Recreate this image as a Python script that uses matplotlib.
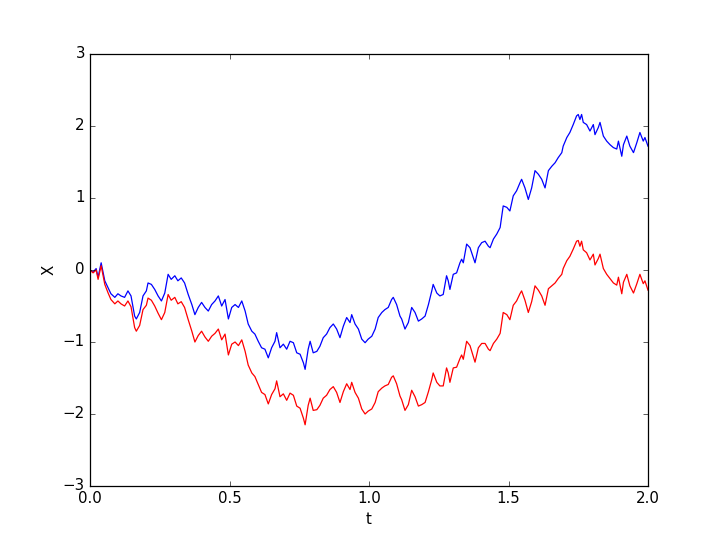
import matplotlib
matplotlib.use('Agg')
import matplotlib.pyplot as plt

# time grid
t = [0.000, 0.011, 0.022, 0.029, 0.040, 0.053, 0.065, 0.075, 0.089, 0.100,
     0.111, 0.124, 0.136, 0.147, 0.160, 0.166, 0.178, 0.190, 0.202, 0.208,
     0.220, 0.232, 0.244, 0.256, 0.268, 0.280, 0.291, 0.304, 0.315, 0.327,
     0.339, 0.352, 0.365, 0.376, 0.388, 0.400, 0.412, 0.424, 0.436, 0.448,
     0.460, 0.472, 0.484, 0.496, 0.508, 0.520, 0.532, 0.544, 0.556, 0.567,
     0.580, 0.591, 0.603, 0.615, 0.627, 0.639, 0.651, 0.663, 0.669, 0.681,
     0.693, 0.705, 0.717, 0.729, 0.741, 0.753, 0.765, 0.771, 0.782, 0.789,
     0.800, 0.813, 0.824, 0.836, 0.848, 0.860, 0.872, 0.884, 0.896, 0.908,
     0.920, 0.932, 0.938, 0.950, 0.962, 0.974, 0.986, 0.997, 1.010, 1.022,
     1.033, 1.046, 1.057, 1.069, 1.081, 1.087, 1.099, 1.111, 1.117, 1.129,
     1.141, 1.153, 1.165, 1.177, 1.189, 1.201, 1.213, 1.225, 1.230, 1.243,
     1.254, 1.266, 1.278, 1.284, 1.290, 1.302, 1.314, 1.326, 1.332, 1.338,
     1.350, 1.362, 1.374, 1.380, 1.392, 1.404, 1.416, 1.428, 1.434, 1.446,
     1.458, 1.470, 1.481, 1.494, 1.505, 1.517, 1.529, 1.541, 1.547, 1.559,
     1.571, 1.583, 1.595, 1.607, 1.619, 1.631, 1.643, 1.655, 1.667, 1.678,
     1.691, 1.696, 1.709, 1.720, 1.732, 1.744, 1.750, 1.756, 1.762, 1.768,
     1.780, 1.792, 1.804, 1.810, 1.822, 1.828, 1.840, 1.852, 1.864, 1.876,
     1.888, 1.894, 1.906, 1.912, 1.924, 1.935, 1.948, 1.960, 1.971, 1.983,
     1.989, 2.000]

# blue path
x_blue = [0.00, -0.03, 0.02, -0.10, 0.10, -0.15, -0.25, -0.33, -0.38, -0.33,
          -0.36, -0.38, -0.29, -0.36, -0.64, -0.68, -0.59, -0.36, -0.29, -0.18,
          -0.20, -0.27, -0.36, -0.43, -0.32, -0.06, -0.13, -0.08, -0.15, -0.11,
          -0.18, -0.34, -0.48, -0.62, -0.52, -0.45, -0.52, -0.57, -0.48, -0.43,
          -0.36, -0.50, -0.41, -0.68, -0.52, -0.48, -0.52, -0.43, -0.57, -0.75,
          -0.85, -0.89, -0.99, -1.08, -1.10, -1.22, -1.08, -0.99, -0.87, -1.08,
          -1.03, -1.10, -0.99, -1.01, -1.15, -1.17, -1.29, -1.38, -1.10, -0.99,
          -1.15, -1.13, -1.06, -0.94, -0.89, -0.80, -0.75, -0.82, -0.94, -0.78,
          -0.66, -0.73, -0.62, -0.75, -0.82, -0.96, -1.01, -0.96, -0.92, -0.82,
          -0.66, -0.59, -0.55, -0.52, -0.41, -0.38, -0.48, -0.64, -0.68, -0.82,
          -0.73, -0.52, -0.59, -0.71, -0.68, -0.64, -0.48, -0.29, -0.20, -0.32,
          -0.36, -0.34, -0.08, -0.15, -0.27, -0.06, -0.04, 0.10, 0.15, 0.10,
          0.36, 0.31, 0.17, 0.10, 0.31, 0.38, 0.40, 0.33, 0.31, 0.43,
          0.50, 0.59, 0.89, 0.87, 0.82, 1.03, 1.10, 1.21, 1.26, 1.14,
          0.98, 1.14, 1.38, 1.33, 1.26, 1.14, 1.38, 1.44, 1.49, 1.56,
          1.63, 1.72, 1.84, 1.91, 2.02, 2.14, 2.16, 2.09, 2.16, 2.05,
          2.02, 1.93, 2.02, 1.88, 1.98, 2.05, 1.86, 1.79, 1.74, 1.70,
          1.68, 1.79, 1.58, 1.74, 1.86, 1.72, 1.63, 1.77, 1.91, 1.79,
          1.84, 1.72]

# red path
x_red = [0.00, -0.04, 0.00, -0.13, 0.06, -0.20, -0.32, -0.41, -0.47, -0.43,
         -0.47, -0.50, -0.43, -0.51, -0.80, -0.85, -0.77, -0.55, -0.49, -0.39,
         -0.42, -0.50, -0.60, -0.69, -0.59, -0.34, -0.42, -0.38, -0.47, -0.44,
         -0.52, -0.69, -0.85, -1.00, -0.91, -0.85, -0.93, -0.99, -0.92, -0.88,
         -0.82, -0.97, -0.89, -1.18, -1.03, -1.00, -1.05, -0.97, -1.13, -1.32,
         -1.43, -1.48, -1.59, -1.70, -1.73, -1.86, -1.73, -1.65, -1.54, -1.76,
         -1.72, -1.81, -1.71, -1.74, -1.89, -1.92, -2.06, -2.15, -1.88, -1.78,
         -1.95, -1.94, -1.88, -1.78, -1.74, -1.66, -1.62, -1.70, -1.84, -1.69,
         -1.58, -1.66, -1.56, -1.70, -1.78, -1.93, -2.00, -1.96, -1.93, -1.84,
         -1.69, -1.64, -1.61, -1.59, -1.49, -1.47, -1.58, -1.75, -1.80, -1.95,
         -1.87, -1.67, -1.76, -1.89, -1.87, -1.84, -1.69, -1.52, -1.43, -1.56,
         -1.61, -1.61, -1.36, -1.43, -1.56, -1.36, -1.35, -1.23, -1.18, -1.24,
         -0.99, -1.05, -1.20, -1.28, -1.08, -1.02, -1.02, -1.10, -1.12, -1.02,
         -0.96, -0.88, -0.59, -0.62, -0.69, -0.49, -0.43, -0.33, -0.29, -0.42,
         -0.59, -0.44, -0.22, -0.28, -0.36, -0.49, -0.26, -0.22, -0.18, -0.12,
         -0.06, 0.02, 0.13, 0.19, 0.29, 0.40, 0.41, 0.33, 0.40, 0.28,
         0.24, 0.14, 0.22, 0.07, 0.16, 0.22, 0.02, -0.06, -0.12, -0.18,
         -0.21, -0.10, -0.33, -0.17, -0.06, -0.22, -0.32, -0.19, -0.06, -0.19,
         -0.15, -0.28]

def main():
    plt.style.use('classic')
    fig, ax = plt.subplots(figsize=(8, 6))
    fig.subplots_adjust(left=0.125, right=0.9, bottom=0.1, top=0.9)

    ax.plot(t, x_blue, color='b', lw=1.0)
    ax.plot(t, x_red, color='r', lw=1.0)

    ax.set_xlim(0, 2)
    ax.set_ylim(-3, 3)
    ax.set_xlabel('t')
    ax.set_ylabel('X')

    fig.savefig('out.png', dpi=90, facecolor='white')

if __name__ == '__main__':
    main()
